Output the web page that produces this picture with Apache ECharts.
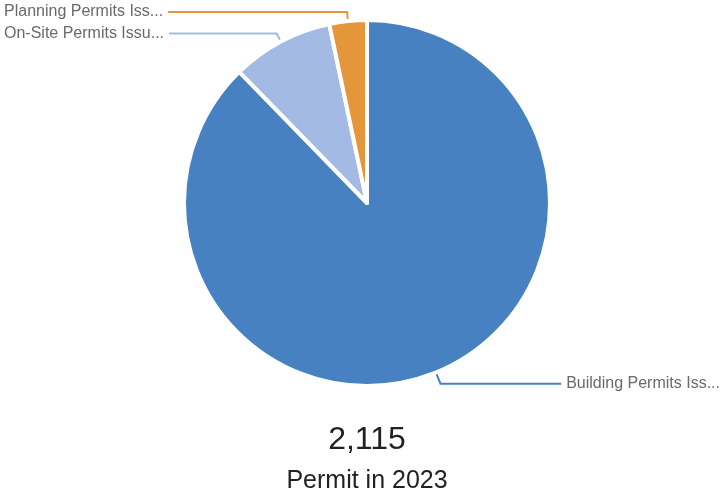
<!DOCTYPE html>
<html>
<head>
<meta charset="utf-8">
<script src="https://cdn.jsdelivr.net/npm/echarts@6/dist/echarts.min.js"></script>
<style>
  html, body { margin: 0; padding: 0; background: #fff; }
  #chart { width: 724px; height: 493px; }
</style>
</head>
<body>
<div id="chart"></div>
<script>
// Permit counts by type, 2023
const categories = ['Building Permits Issued', 'On-Site Permits Issued', 'Planning Permits Issued'];
const values = [1855, 190, 70];
const colors = ['#4781c1', '#a3bbe4', '#e6963a'];
const totalLabel = '2,115';
const subLabel = 'Permit in 2023';

const FONT = 'Liberation Sans';
const chart = echarts.init(document.getElementById('chart'));

// the large slice's label sits lower, so give its leader a slightly longer first leg
const pieData = categories.map((name, i) => {
  const item = { name, value: values[i] };
  if (i === 0) item.labelLine = { length: 12 };
  return item;
});

chart.setOption({
  animation: false,
  color: colors,
  graphic: [
    {
      type: 'text',
      x: 367, y: 440,
      style: {
        text: totalLabel, align: 'center', verticalAlign: 'middle',
        fontFamily: FONT, fontSize: 32, fill: '#222'
      }
    },
    {
      type: 'text',
      x: 367, y: 481,
      style: {
        text: subLabel, align: 'center', verticalAlign: 'middle',
        fontFamily: FONT, fontSize: 25, fill: '#222'
      }
    }
  ],
  series: [{
    type: 'pie',
    center: [367, 203],
    radius: 183,
    startAngle: 90,
    clockwise: true,
    itemStyle: { borderColor: '#fff', borderWidth: 4 },
    label: {
      show: true,
      position: 'outside',
      alignTo: 'edge',
      edgeDistance: 4,
      width: 164,
      overflow: 'truncate',
      ellipsis: '...',
      fontFamily: FONT,
      fontSize: 16,
      color: '#6a6a6a'
    },
    labelLine: { show: true, length: 9, length2: 10, lineStyle: { width: 2 } },
    data: pieData
  }]
});
</script>
</body>
</html>
